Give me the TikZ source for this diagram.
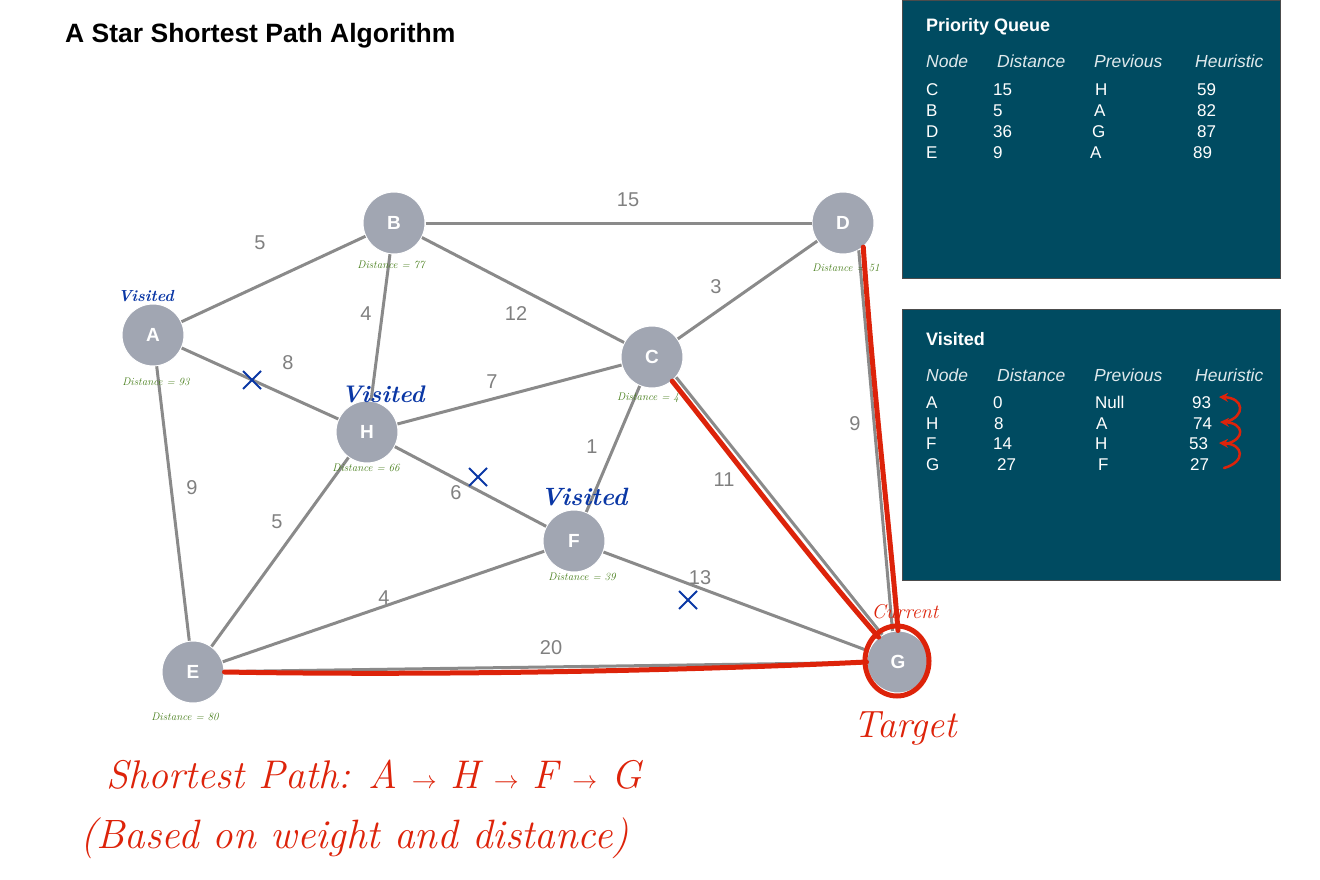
\documentclass[tikz,border=0pt]{standalone}
\usepackage{fontspec}
\setsansfont{Liberation Sans}
\usepackage{tikz}
\usetikzlibrary{arrows.meta}
\usetikzlibrary{positioning}
\usetikzlibrary{shapes.misc}
\definecolor{nodegray}{RGB}{161,166,178}
\definecolor{edgegray}{RGB}{138,138,138}
\definecolor{weightgray}{RGB}{128,128,128}
\definecolor{panelteal}{RGB}{0,75,97}
\definecolor{penred}{RGB}{221,35,10}
\definecolor{penblue}{RGB}{10,55,165}
\definecolor{pengreen}{RGB}{70,125,25}
\tikzset{vertex/.style = {circle, fill=nodegray, draw=white, line width=1, inner sep=0, minimum size=62, text=white, font=\sffamily\bfseries\fontsize{19}{19}\selectfont}}
\tikzset{edge/.style = {draw=edgegray, line width=3}}
\tikzset{weight/.style = {text=weightgray, inner sep=0, font=\sffamily\fontsize{20}{20}\selectfont}}
\tikzset{note/.style = {text=pengreen, inner sep=0, font=\rmfamily\itshape\fontsize{11}{11}\selectfont}}
\tikzset{seen/.style = {text=penblue, inner sep=0, font=\rmfamily\itshape\bfseries\fontsize{#1}{#1}\selectfont}}
\tikzset{tick/.style = {cross out, draw=penblue, line width=2, minimum size=16, inner sep=0}}
\tikzset{pen/.style = {draw=penred, line width=5, line cap=round, line join=round}}
\tikzset{hook/.style = {draw=penred, line width=2.5, line cap=round, -{Stealth[length=9pt, width=9pt]}}}
\tikzset{scrawl/.style = {text=penred, inner sep=0, font=\rmfamily\itshape\fontsize{#1}{#1}\selectfont}}
\tikzset{panel/.style = {fill=panelteal, draw=black!70, line width=1, anchor=north west, minimum width=378, inner sep=0}}
\tikzset{heading/.style = {text=white, anchor=mid west, inner sep=0, yshift=-4, font=\sffamily\bfseries\fontsize{18}{18}\selectfont}}
\tikzset{colhead/.style = {text=white!88!panelteal, anchor=mid west, inner sep=0, yshift=-4, font=\sffamily\itshape\fontsize{17.5}{17.5}\selectfont}}
\tikzset{cell/.style = {text=white, anchor=mid west, inner sep=0, yshift=-4, font=\sffamily\fontsize{17}{17}\selectfont}}
\begin{document}
\begin{tikzpicture}[x=1pt, y=-1pt]
  \useasboundingbox (0,0) rectangle (1320,880);
  \node[text=black, anchor=mid west, inner sep=0, font=\sffamily\bfseries\fontsize{26.5}{26.5}\selectfont] (title) at (65,40) {A Star Shortest Path Algorithm};

  % graph
  \node[vertex] (A) at (153,335) {A};
  \node[vertex] (B) at (394,223) {B};
  \node[vertex] (D) at (843,223) {D};
  \node[vertex] (C) at (652,357) {C};
  \node[vertex] (H) at (367,432) {H};
  \node[vertex] (F) at (574,541) {F};
  \node[vertex] (E) at (193,672) {E};
  \node[vertex] (G) at (898,662) {G};

  \draw[edge] (A) -- (B);
  \draw[edge] (B) -- (D);
  \draw[edge] (B) -- (H);
  \draw[edge] (B) -- (C);
  \draw[edge] (C) -- (D);
  \draw[edge] (A) -- (H);
  \draw[edge] (H) -- (C);
  \draw[edge] (C) -- (F);
  \draw[edge] (C.-40) -- (G.120);
  \draw[edge] (D.-60) -- (G.100);
  \draw[edge] (A) -- (E);
  \draw[edge] (H) -- (E);
  \draw[edge] (H) -- (F);
  \draw[edge] (F) -- (G);
  \draw[edge] (E) -- (F);
  \draw[edge] (E) -- (G);

  \node[weight] (wAB) at (260,243) {5};
  \node[weight] (wBD) at (628,200) {15};
  \node[weight] (wBH) at (366,314) {4};
  \node[weight] (wBC) at (516,314) {12};
  \node[weight] (wCD) at (716,287) {3};
  \node[weight] (wAH) at (288,363) {8};
  \node[weight] (wHC) at (492,382) {7};
  \node[weight] (wCF) at (592,447) {1};
  \node[weight] (wCG) at (724,480) {11};
  \node[weight] (wDG) at (855,424) {9};
  \node[weight] (wAE) at (192,488) {9};
  \node[weight] (wHE) at (277,522) {5};
  \node[weight] (wHF) at (456,493) {6};
  \node[weight] (wFG) at (700,578) {13};
  \node[weight] (wEF) at (384,598) {4};
  \node[weight] (wEG) at (551,648) {20};

  % notes
  \node[note] (dA) at (156,382) {Distance = 93};
  \node[note] (dB) at (391,265) {Distance = 77};
  \node[note] (dD) at (846,268) {Distance = 51};
  \node[note] (dC) at (648,398) {Distance = 4};
  \node[note] (dH) at (366,468) {Distance = 66};
  \node[note] (dF) at (582,577) {Distance = 39};
  \node[note] (dE) at (185,717) {Distance = 80};

  \node[seen=16] (vA) at (146,296) {Visited};
  \node[seen=24] (vH) at (383,394) {Visited};
  \node[seen=25] (vF) at (584,497) {Visited};

  \node[tick] (xAH) at (252,380) {};
  \node[tick] (xHF) at (478,477) {};
  \node[tick] (xFG) at (688,600) {};

  % path in red
  \draw[pen] (C.-50) .. controls (735,460) and (815,565) .. (G.128);
  \draw[pen] (D.-50) .. controls (874,400) and (891,540) .. (G.90);
  \draw[pen] (E.east) .. controls (450,676) and (700,670) .. (G.west);
  \draw[pen] (897,661) ellipse [x radius=32, y radius=35];
  \node[scrawl=20] (current) at (905,612) {Current};
  \node[scrawl=38] (target) at (905,728) {Target};
  \node[scrawl=40, anchor=west] (route) at (106,775) {Shortest Path: A $\rightarrow$ H $\rightarrow$ F $\rightarrow$ G};
  \node[scrawl=41, anchor=west] (basis) at (80,838) {(Based on weight and distance)};

  % priority queue
  \node[panel, minimum height=278] (queue) at (902,0) {};
  \node[heading] (queue-title) at (926,25) {Priority Queue};
  \foreach \cx/\ct [count=\i] in {926/Node, 997/Distance, 1094/Previous, 1195/Heuristic}
    \node[colhead] (queue-head-\i) at (\cx,61) {\ct};
  \foreach \cx/\cy/\ct [count=\i] in {926/89/C, 993/89/15, 1095/89/H, 1197/89/59,
      926/110/B, 993/110/5, 1094/110/A, 1197/110/82,
      926/131/D, 993/131/36, 1092/131/G, 1197/131/87,
      926/152/E, 993/152/9, 1090/152/A, 1193/152/89}
    \node[cell] (queue-\i) at (\cx,\cy) {\ct};

  % visited
  \node[panel, minimum height=271] (done) at (902,309) {};
  \node[heading] (done-title) at (926,339) {Visited};
  \foreach \cx/\ct [count=\i] in {926/Node, 997/Distance, 1094/Previous, 1195/Heuristic}
    \node[colhead] (done-head-\i) at (\cx,375) {\ct};
  \foreach \cx/\cy/\ct [count=\i] in {926/402/A, 993/402/0, 1095/402/Null, 1192/402/93,
      926/423/H, 994/423/8, 1096/423/A, 1193/423/74,
      926/443/F, 993/443/14, 1095/443/H, 1189/443/53,
      926/464/G, 997/464/27, 1098/464/F, 1190/464/27}
    \node[cell] (done-\i) at (\cx,\cy) {\ct};

  \draw[hook] (1224,468) .. controls (1246,462) and (1244,444) .. (1219,443);
  \draw[hook] (1226,444) .. controls (1246,439) and (1244,423) .. (1220,422);
  \draw[hook] (1226,422) .. controls (1246,416) and (1244,398) .. (1219,397);
\end{tikzpicture}
\end{document}
